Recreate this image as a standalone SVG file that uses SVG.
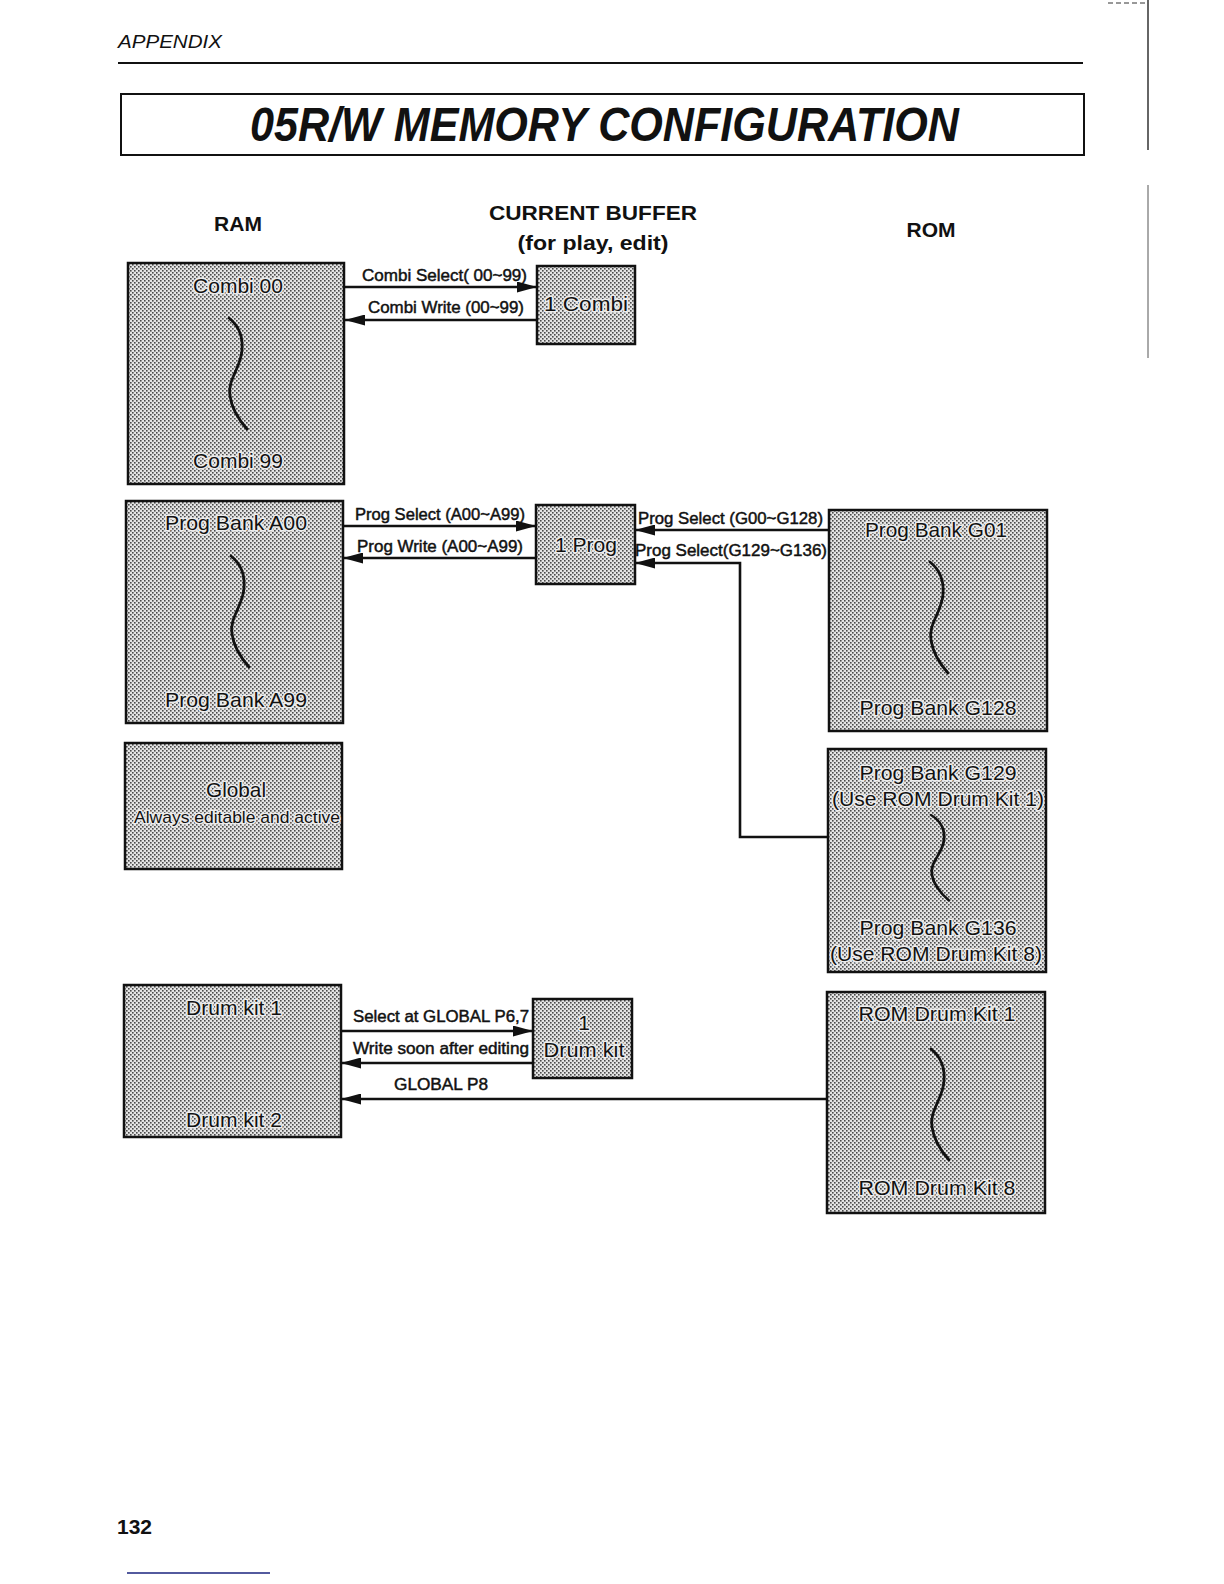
<svg xmlns="http://www.w3.org/2000/svg" width="1224" height="1584" viewBox="0 0 1224 1584">
<style>
.box{fill:url(#dots);stroke:#111;stroke-width:2.5}
.bt{font-family:"Liberation Sans",Arial,sans-serif;font-size:21px;fill:#111;text-anchor:middle;paint-order:stroke;stroke:#ececec;stroke-width:3px;stroke-linejoin:round}
.sm{font-size:17px}
.lb{font-family:"Liberation Sans",Arial,sans-serif;font-size:16px;fill:#111;stroke:#111;stroke-width:0.45px}
.hd{font-family:"Liberation Sans",Arial,sans-serif;font-size:21px;font-weight:bold;fill:#111;text-anchor:middle}
.cn{fill:none;stroke:#111;stroke-width:2.6}
.sq{fill:none;stroke:#111;stroke-width:2.8;stroke-linecap:round}
</style>
<defs>
<pattern id="dots" width="4" height="4" patternUnits="userSpaceOnUse">
<rect width="4" height="4" fill="#e4e4e4"/>
<rect x="0" y="0" width="1.6" height="1.6" fill="#4a4a4a"/>
<rect x="2" y="2" width="1.6" height="1.6" fill="#4a4a4a"/>
</pattern>
<marker id="ah" markerWidth="20" markerHeight="11" refX="20" refY="5.5" orient="auto" markerUnits="userSpaceOnUse">
<path d="M0,0 L20,5.5 L0,11 Z" fill="#111"/>
</marker>
<path id="sq" class="sq" d="M0,0 C10,8 14,20 13,32 C12,50 -2,62 1,78 C3,92 10,102 18,111"/>
</defs>
<rect width="1224" height="1584" fill="#fff"/>

<g id="header">
<text x="118" y="48" font-family="'Liberation Sans',Arial,sans-serif" font-size="19" font-style="italic" fill="#111" textLength="104" lengthAdjust="spacingAndGlyphs">APPENDIX</text>
<line x1="118" y1="63" x2="1083" y2="63" stroke="#111" stroke-width="2"/>
<rect x="121" y="94" width="963" height="61" fill="none" stroke="#111" stroke-width="2"/>
<text x="250" y="141" font-family="'Liberation Sans',Arial,sans-serif" font-size="48" font-style="italic" font-weight="bold" fill="#111" textLength="709" lengthAdjust="spacingAndGlyphs">05R/W MEMORY CONFIGURATION</text>
<line x1="1148" y1="0" x2="1148" y2="150" stroke="#333" stroke-width="1.5"/>
<line x1="1148" y1="185" x2="1148" y2="358" stroke="#555" stroke-width="1"/>
<line x1="1108" y1="3" x2="1146" y2="3" stroke="#333" stroke-width="1" stroke-dasharray="5,3"/>
</g>

<g id="headings">
<text class="hd" x="238" y="231">RAM</text>
<text class="hd" x="593" y="220" textLength="208" lengthAdjust="spacingAndGlyphs">CURRENT BUFFER</text>
<text class="hd" x="593" y="250" textLength="151" lengthAdjust="spacingAndGlyphs">(for play, edit)</text>
<text class="hd" x="931" y="237">ROM</text>
</g>

<g id="connectors">
<line class="cn" x1="345" y1="287" x2="537" y2="287" marker-end="url(#ah)"/>
<line class="cn" x1="537" y1="320" x2="345" y2="320" marker-end="url(#ah)"/>
<line class="cn" x1="343" y1="526" x2="536" y2="526" marker-end="url(#ah)"/>
<line class="cn" x1="536" y1="558" x2="343" y2="558" marker-end="url(#ah)"/>
<line class="cn" x1="829" y1="530" x2="635" y2="530" marker-end="url(#ah)"/>
<polyline class="cn" points="828,837 740,837 740,563 635,563" marker-end="url(#ah)"/>
<line class="cn" x1="341" y1="1031" x2="533" y2="1031" marker-end="url(#ah)"/>
<line class="cn" x1="533" y1="1063" x2="341" y2="1063" marker-end="url(#ah)"/>
<line class="cn" x1="827" y1="1099" x2="341" y2="1099" marker-end="url(#ah)"/>
<text class="lb" x="362" y="281" textLength="165" lengthAdjust="spacingAndGlyphs">Combi Select( 00~99)</text>
<text class="lb" x="368" y="313" textLength="156" lengthAdjust="spacingAndGlyphs">Combi Write (00~99)</text>
<text class="lb" x="355" y="520" textLength="170" lengthAdjust="spacingAndGlyphs">Prog Select (A00~A99)</text>
<text class="lb" x="357" y="552" textLength="166" lengthAdjust="spacingAndGlyphs">Prog Write (A00~A99)</text>
<text class="lb" x="638" y="524" textLength="185" lengthAdjust="spacingAndGlyphs">Prog Select (G00~G128)</text>
<text class="lb" x="635" y="556" textLength="192" lengthAdjust="spacingAndGlyphs">Prog Select(G129~G136)</text>
<text class="lb" x="353" y="1022" textLength="176" lengthAdjust="spacingAndGlyphs">Select at GLOBAL P6,7</text>
<text class="lb" x="353" y="1054" textLength="176" lengthAdjust="spacingAndGlyphs">Write soon after editing</text>
<text class="lb" x="394" y="1090" textLength="94" lengthAdjust="spacingAndGlyphs">GLOBAL P8</text>
</g>

<g id="ram-combi">
<rect class="box" x="128" y="263" width="216" height="221"/>
<text class="bt" x="238" y="293" textLength="90" lengthAdjust="spacingAndGlyphs">Combi 00</text>
<use href="#sq" x="229" y="318"/>
<text class="bt" x="238" y="468" textLength="90" lengthAdjust="spacingAndGlyphs">Combi 99</text>
</g>

<g id="buf-combi">
<rect class="box" x="537" y="266" width="98" height="78"/>
<text class="bt" x="586" y="311" textLength="84" lengthAdjust="spacingAndGlyphs">1 Combi</text>
</g>

<g id="ram-prog">
<rect class="box" x="126" y="501" width="217" height="222"/>
<text class="bt" x="236" y="530" textLength="142" lengthAdjust="spacingAndGlyphs">Prog Bank A00</text>
<use href="#sq" x="231" y="556"/>
<text class="bt" x="236" y="707" textLength="142" lengthAdjust="spacingAndGlyphs">Prog Bank A99</text>
</g>

<g id="buf-prog">
<rect class="box" x="536" y="505" width="99" height="79"/>
<text class="bt" x="586" y="552" textLength="62" lengthAdjust="spacingAndGlyphs">1 Prog</text>
</g>

<g id="rom-prog-g01">
<rect class="box" x="829" y="510" width="218" height="221"/>
<text class="bt" x="936" y="537" textLength="142" lengthAdjust="spacingAndGlyphs">Prog Bank G01</text>
<use href="#sq" x="930" y="562"/>
<text class="bt" x="938" y="715" textLength="157" lengthAdjust="spacingAndGlyphs">Prog Bank G128</text>
</g>

<g id="ram-global">
<rect class="box" x="125" y="743" width="217" height="126"/>
<text class="bt" x="236" y="797" textLength="60" lengthAdjust="spacingAndGlyphs">Global</text>
<text class="bt sm" x="237" y="823" textLength="206" lengthAdjust="spacingAndGlyphs">Always editable and active</text>
</g>

<g id="rom-prog-g129">
<rect class="box" x="828" y="749" width="218" height="223"/>
<text class="bt" x="938" y="780" textLength="157" lengthAdjust="spacingAndGlyphs">Prog Bank G129</text>
<text class="bt" x="938" y="806" textLength="212" lengthAdjust="spacingAndGlyphs">(Use ROM Drum Kit 1)</text>
<use href="#sq" transform="translate(931,815) scale(1,0.77)"/>
<text class="bt" x="938" y="935" textLength="157" lengthAdjust="spacingAndGlyphs">Prog Bank G136</text>
<text class="bt" x="936" y="961" textLength="212" lengthAdjust="spacingAndGlyphs">(Use ROM Drum Kit 8)</text>
</g>

<g id="ram-drum">
<rect class="box" x="124" y="985" width="217" height="152"/>
<text class="bt" x="234" y="1015" textLength="96" lengthAdjust="spacingAndGlyphs">Drum kit 1</text>
<text class="bt" x="234" y="1127" textLength="96" lengthAdjust="spacingAndGlyphs">Drum kit 2</text>
</g>

<g id="buf-drum">
<rect class="box" x="533" y="999" width="99" height="79"/>
<text class="bt" x="584" y="1030">1</text>
<text class="bt" x="584" y="1057" textLength="81" lengthAdjust="spacingAndGlyphs">Drum kit</text>
</g>

<g id="rom-drum">
<rect class="box" x="827" y="992" width="218" height="221"/>
<text class="bt" x="937" y="1021" textLength="157" lengthAdjust="spacingAndGlyphs">ROM Drum Kit 1</text>
<use href="#sq" x="931" y="1049"/>
<text class="bt" x="937" y="1195" textLength="157" lengthAdjust="spacingAndGlyphs">ROM Drum Kit 8</text>
</g>

<g id="footer">
<text x="117" y="1534" font-family="'Liberation Sans',Arial,sans-serif" font-size="21" font-weight="bold" fill="#111">132</text>
<line x1="127" y1="1573" x2="270" y2="1573" stroke="#1a237e" stroke-width="1.5"/>
</g>
</svg>
